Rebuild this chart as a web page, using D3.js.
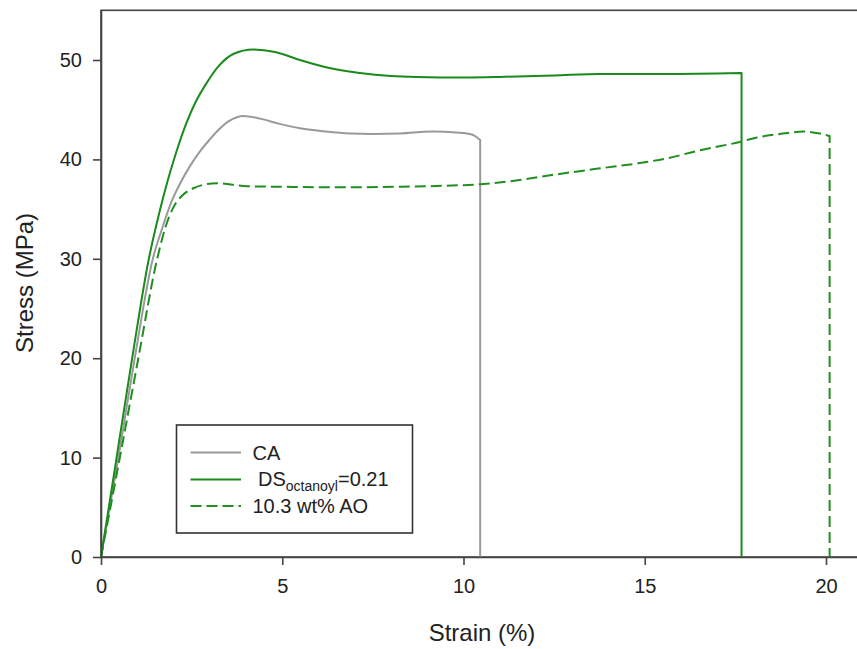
<!DOCTYPE html>
<html>
<head>
<meta charset="utf-8">
<script src="https://cdn.jsdelivr.net/npm/d3@7"></script>
<style>
  html, body { margin: 0; padding: 0; background: #fff; }
  svg { display: block; font-family: Arial, "Liberation Sans", sans-serif; }
</style>
</head>
<body>
<svg id="chart" width="857" height="649"></svg>
<script>
// ---- Data ----
const caStrain = [0, 0.48, 0.93, 1.43, 1.7, 1.95, 2.2, 2.45, 2.73, 3.0, 3.25, 3.55, 3.93, 4.39, 4.9, 5.49, 6.2, 6.87, 7.5, 8.25, 9.16, 9.8, 10.09, 10.3, 10.46];
const caStress = [0, 10, 20, 30, 33.2, 35.8, 37.7, 39.3, 40.8, 42.0, 43.0, 43.9, 44.37, 44.1, 43.6, 43.13, 42.8, 42.6, 42.55, 42.6, 42.8, 42.7, 42.6, 42.4, 41.95];

const dsStrain = [0, 0.43, 0.86, 1.32, 1.6, 1.85, 2.1, 2.35, 2.6, 2.9, 3.25, 3.65, 4.2, 4.8, 5.49, 6.3, 7.14, 8.0, 8.71, 10.0, 11.0, 12.5, 13.77, 15.5, 17.67];
const dsStress = [0, 10, 20, 30, 34.5, 38, 41, 43.6, 45.7, 47.6, 49.4, 50.6, 51.05, 50.8, 50.0, 49.2, 48.7, 48.4, 48.3, 48.25, 48.3, 48.45, 48.6, 48.6, 48.7];

const aoStrain = [0, 0.52, 1.03, 1.55, 1.78, 2.0, 2.25, 2.55, 2.9, 3.2, 4.02, 4.94, 6.0, 7.0, 8.25, 9.5, 10.46, 11.5, 12.39, 13.77, 14.8, 15.6, 16.5, 17.67, 18.09, 18.82, 19.37, 19.83, 20.1];
const aoStress = [0, 10, 20, 30, 33.2, 35.2, 36.4, 37.1, 37.5, 37.6, 37.3, 37.25, 37.2, 37.2, 37.25, 37.35, 37.5, 37.9, 38.4, 39.1, 39.6, 40.1, 40.9, 41.8, 42.2, 42.6, 42.8, 42.6, 42.35];

const xTicks = [0, 5, 10, 15, 20];
const yTicks = [0, 10, 20, 30, 40, 50];
const xLabel = "Strain (%)";
const yLabel = "Stress (MPa)";

const series = [
  { name: "CA", strain: caStrain, stress: caStress, color: "#999999", dash: null, width: 2 },
  { name: "DS", strain: dsStrain, stress: dsStress, color: "#1a8a1a", dash: null, width: 2 },
  { name: "10.3 wt% AO", strain: aoStrain, stress: aoStress, color: "#1f8f1f", dash: "11,5", width: 2 }
];

// ---- Layout ----
const svg = d3.select("#chart");
const x = d3.scaleLinear().domain([0, 21]).range([101, 862.25]);
const y = d3.scaleLinear().domain([0, 55]).range([557, 10.3]);
const axisColor = "#444";

// frame (top / right border)
svg.append("rect")
  .attr("x", x(0)).attr("y", y(55))
  .attr("width", x(21) - x(0)).attr("height", y(0) - y(55))
  .attr("fill", "none").attr("stroke", axisColor).attr("stroke-width", 1.6);

// curves
const line = d3.line().x((d) => x(d[0])).y((d) => y(d[1])).curve(d3.curveMonotoneX);
series.forEach((s) => {
  const pts = s.strain.map((v, i) => [v, s.stress[i]]);
  const last = pts[pts.length - 1];
  const dstr = line(pts) + "L" + x(last[0]) + "," + y(0);
  svg.append("path")
    .attr("d", dstr)
    .attr("fill", "none")
    .attr("stroke", s.color)
    .attr("stroke-width", s.width)
    .attr("stroke-dasharray", s.dash)
    .attr("stroke-linejoin", "round");
});

// axes
const xAxis = svg.append("g").attr("transform", `translate(0,${y(0)})`)
  .call(d3.axisBottom(x).tickValues(xTicks).tickSize(8).tickPadding(14).tickSizeOuter(0));
const yAxis = svg.append("g").attr("transform", `translate(${x(0)},0)`)
  .call(d3.axisLeft(y).tickValues(yTicks).tickSize(8).tickPadding(11).tickSizeOuter(0));
[xAxis, yAxis].forEach((g) => {
  g.select(".domain").attr("stroke", axisColor).attr("stroke-width", 1.6);
  g.selectAll(".tick line").attr("stroke", axisColor).attr("stroke-width", 1.6);
  g.selectAll(".tick text").attr("fill", "#222").style("font-size", "20px")
    .style("font-family", "Arial, 'Liberation Sans', sans-serif");
});
xAxis.selectAll(".tick text").attr("dy", "0.72em");

// axis titles
svg.append("text")
  .attr("x", 482).attr("y", 641)
  .attr("text-anchor", "middle").attr("fill", "#222")
  .style("font-size", "24px").text(xLabel);
svg.append("text")
  .attr("transform", "translate(33,283) rotate(-90)")
  .attr("text-anchor", "middle").attr("fill", "#222")
  .style("font-size", "24px").text(yLabel);

// legend
const lg = svg.append("g");
lg.append("rect").attr("x", 176.5).attr("y", 425).attr("width", 236).attr("height", 108)
  .attr("fill", "#fff").attr("stroke", "#333").attr("stroke-width", 1.6);
const rowsY = [452.5, 479.5, 506];
series.forEach((s, i) => {
  lg.append("line")
    .attr("x1", 190.5).attr("x2", 241).attr("y1", rowsY[i]).attr("y2", rowsY[i])
    .attr("stroke", s.color).attr("stroke-width", s.width)
    .attr("stroke-dasharray", s.dash);
});
lg.append("text").attr("x", 252.5).attr("y", 459.5).attr("fill", "#222")
  .style("font-size", "20px").text("CA");
const t2 = lg.append("text").attr("x", 258).attr("y", 486).attr("fill", "#222").style("font-size", "20px");
t2.append("tspan").text("DS");
t2.append("tspan").attr("dy", 5).style("font-size", "14px").text("octanoyl");
t2.append("tspan").attr("dy", -5).text("=0.21");
lg.append("text").attr("x", 252.5).attr("y", 513).attr("fill", "#222")
  .style("font-size", "20px").text("10.3 wt% AO");
</script>
</body>
</html>
